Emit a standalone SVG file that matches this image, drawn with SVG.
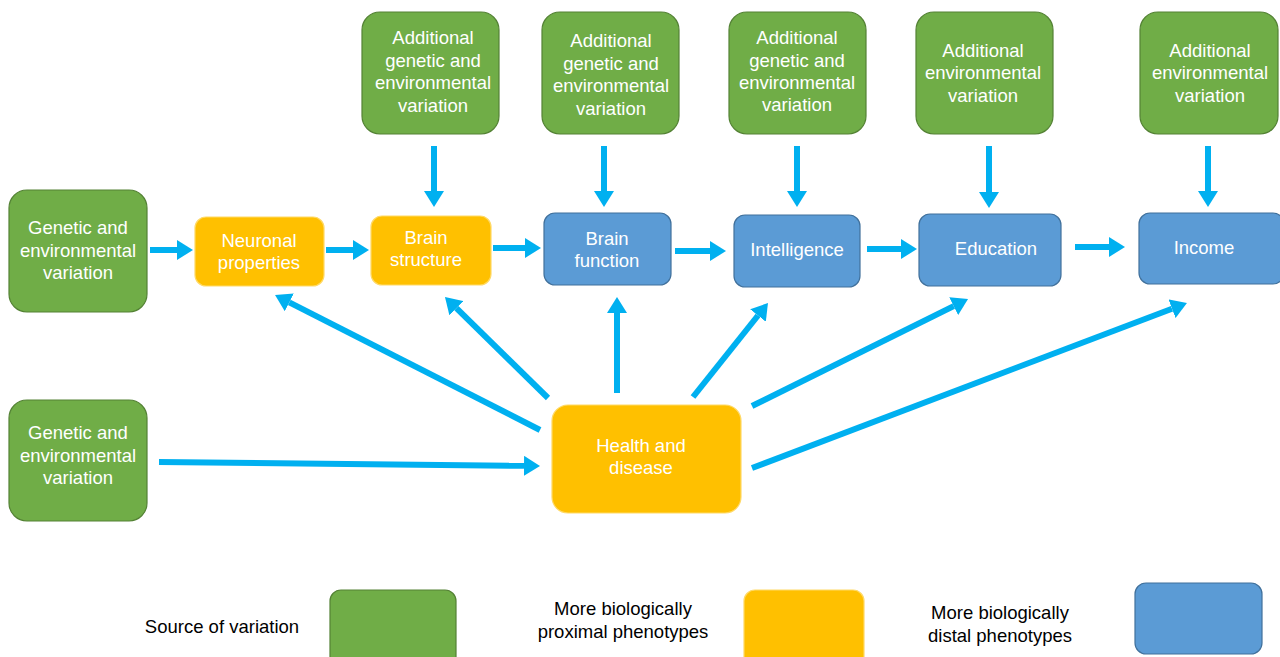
<svg xmlns="http://www.w3.org/2000/svg" width="1280" height="657" viewBox="0 0 1280 657">
  <style>
    .src { fill: #70AD47; stroke: #548235; stroke-width: 1.2; }
    .prox { fill: #FFC000; stroke: #FFD966; stroke-width: 1.2; }
    .dist { fill: #5B9BD5; stroke: #41719C; stroke-width: 1.2; }
    .lbl { font-family: "Liberation Sans", Arial, sans-serif; font-size: 18.5px; fill: #FFFFFF; text-anchor: middle; }
    .key { font-family: "Liberation Sans", Arial, sans-serif; font-size: 18.5px; fill: #000000; text-anchor: middle; }
    .conn { stroke: #00B0F0; stroke-width: 6; fill: none; marker-end: url(#head); }
  </style>
  <defs>
    <marker id="head" viewBox="0 0 16 20" markerWidth="16" markerHeight="20" refX="0" refY="10" orient="auto" markerUnits="userSpaceOnUse">
      <path d="M0,0 L16,10 L0,20 z" fill="#00B0F0"/>
    </marker>
  </defs>
  <rect width="1280" height="657" fill="#FFFFFF"/>

  <!-- connectors -->
  <g id="connectors">
    <!-- main chain -->
    <line class="conn" x1="150" y1="250" x2="177" y2="250"/>
    <line class="conn" x1="326" y1="250" x2="353" y2="250"/>
    <line class="conn" x1="493" y1="248" x2="525" y2="248"/>
    <line class="conn" x1="675" y1="251" x2="710" y2="251"/>
    <line class="conn" x1="867" y1="249" x2="901" y2="249"/>
    <line class="conn" x1="1075" y1="247" x2="1109" y2="247"/>
    <!-- additional variation inputs -->
    <line class="conn" x1="434" y1="146" x2="434" y2="191"/>
    <line class="conn" x1="604" y1="146" x2="604" y2="191"/>
    <line class="conn" x1="797" y1="146" x2="797" y2="191"/>
    <line class="conn" x1="989" y1="146" x2="989" y2="192"/>
    <line class="conn" x1="1208" y1="146" x2="1208" y2="191"/>
    <!-- into health and disease -->
    <line class="conn" x1="159" y1="462" x2="524" y2="465.8"/>
    <!-- out of health and disease -->
    <line class="conn" x1="540" y1="430" x2="289.3" y2="302.3"/>
    <line class="conn" x1="548" y1="398" x2="456.4" y2="308.2"/>
    <line class="conn" x1="617" y1="393" x2="617" y2="313"/>
    <line class="conn" x1="693" y1="397" x2="758" y2="315.5"/>
    <line class="conn" x1="752" y1="406" x2="953.7" y2="306.1"/>
    <line class="conn" x1="752" y1="468" x2="1172" y2="308.7"/>
  </g>

  <!-- sources of variation -->
  <g id="genetic-env-1">
    <rect class="src" x="9" y="190" width="138" height="122" rx="18"/>
    <text class="lbl" x="78" y="234">Genetic and</text>
    <text class="lbl" x="78" y="257">environmental</text>
    <text class="lbl" x="78" y="279">variation</text>
  </g>
  <g id="genetic-env-2">
    <rect class="src" x="9" y="400" width="138" height="121" rx="18"/>
    <text class="lbl" x="78" y="439">Genetic and</text>
    <text class="lbl" x="78" y="462">environmental</text>
    <text class="lbl" x="78" y="484">variation</text>
  </g>
  <g id="additional-1">
    <rect class="src" x="362" y="12" width="137" height="122" rx="18"/>
    <text class="lbl" x="433" y="44">Additional</text>
    <text class="lbl" x="433" y="67">genetic and</text>
    <text class="lbl" x="433" y="89">environmental</text>
    <text class="lbl" x="433" y="112">variation</text>
  </g>
  <g id="additional-2">
    <rect class="src" x="542" y="12" width="137" height="122" rx="18"/>
    <text class="lbl" x="611" y="47">Additional</text>
    <text class="lbl" x="611" y="70">genetic and</text>
    <text class="lbl" x="611" y="92">environmental</text>
    <text class="lbl" x="611" y="115">variation</text>
  </g>
  <g id="additional-3">
    <rect class="src" x="729" y="12" width="137" height="122" rx="18"/>
    <text class="lbl" x="797" y="44">Additional</text>
    <text class="lbl" x="797" y="67">genetic and</text>
    <text class="lbl" x="797" y="89">environmental</text>
    <text class="lbl" x="797" y="111">variation</text>
  </g>
  <g id="additional-4">
    <rect class="src" x="916" y="12" width="137" height="122" rx="18"/>
    <text class="lbl" x="983" y="57">Additional</text>
    <text class="lbl" x="983" y="79">environmental</text>
    <text class="lbl" x="983" y="102">variation</text>
  </g>
  <g id="additional-5">
    <rect class="src" x="1140" y="12" width="138" height="122" rx="18"/>
    <text class="lbl" x="1210" y="57">Additional</text>
    <text class="lbl" x="1210" y="79">environmental</text>
    <text class="lbl" x="1210" y="102">variation</text>
  </g>

  <!-- proximal phenotypes -->
  <g id="neuronal">
    <rect class="prox" x="195" y="217" width="129" height="69" rx="11"/>
    <text class="lbl" x="259" y="247">Neuronal</text>
    <text class="lbl" x="259" y="269">properties</text>
  </g>
  <g id="brain-structure">
    <rect class="prox" x="371" y="216" width="120" height="69" rx="11"/>
    <text class="lbl" x="426" y="244">Brain</text>
    <text class="lbl" x="426" y="266">structure</text>
  </g>
  <g id="health">
    <rect class="prox" x="552" y="405" width="189" height="108" rx="16"/>
    <text class="lbl" x="641" y="452">Health and</text>
    <text class="lbl" x="641" y="474">disease</text>
  </g>

  <!-- distal phenotypes -->
  <g id="brain-function">
    <rect class="dist" x="544" y="213" width="127" height="72" rx="11"/>
    <text class="lbl" x="607" y="245">Brain</text>
    <text class="lbl" x="607" y="267">function</text>
  </g>
  <g id="intelligence">
    <rect class="dist" x="734" y="215" width="126" height="72" rx="11"/>
    <text class="lbl" x="797" y="256">Intelligence</text>
  </g>
  <g id="education">
    <rect class="dist" x="919" y="214" width="142" height="72" rx="11"/>
    <text class="lbl" x="996" y="255">Education</text>
  </g>
  <g id="income">
    <rect class="dist" x="1139" y="213" width="145" height="71" rx="11"/>
    <text class="lbl" x="1204" y="254">Income</text>
  </g>

  <!-- key -->
  <g id="legend">
    <text class="key" x="222" y="633">Source of variation</text>
    <rect class="src" x="330" y="590" width="126" height="80" rx="11"/>
    <text class="key" x="623" y="615">More biologically</text>
    <text class="key" x="623" y="638">proximal phenotypes</text>
    <rect class="prox" x="744" y="590" width="120" height="80" rx="11"/>
    <text class="key" x="1000" y="619">More biologically</text>
    <text class="key" x="1000" y="642">distal phenotypes</text>
    <rect class="dist" x="1135" y="583" width="127" height="71" rx="11"/>
  </g>
</svg>
